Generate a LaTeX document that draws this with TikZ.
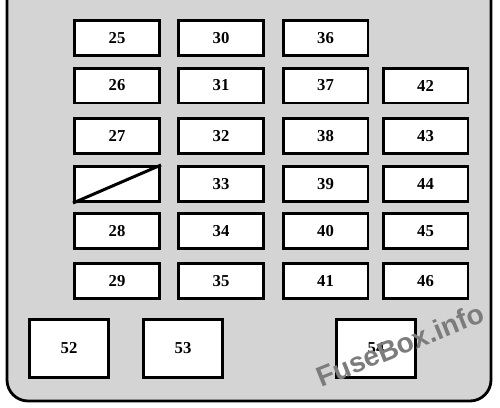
\documentclass[tikz,border=0pt]{standalone}
\usepackage{fontspec}
\setmainfont{Liberation Serif}
\newfontfamily\markfont{Liberation Sans}
\usepackage{tikz}
\usepackage{xcolor}

\definecolor{panelgrey}{HTML}{D4D4D4}
\definecolor{markgrey}{HTML}{7C7C7C}

\tikzset{
  fuse/.style={draw, line width=1.7pt, fill=white, minimum width=1.7cm, minimum height=0.7cm,
    inner sep=0pt, font=\fontsize{9.5}{11}\selectfont\bfseries},
  bigfuse/.style={fuse, minimum width=1.58cm, minimum height=1.16cm}
}

\begin{document}
\begin{tikzpicture}[x=0.02cm, y=-0.02cm]
\useasboundingbox (0,0) rectangle (500,407);
\fill[white] (0,0) rectangle (500,407);
\draw[line width=1.6pt, fill=panelgrey, rounded corners=12] (7,-30) rectangle (491,401);

% column 1
\node[fuse] (f25) at (117,38) {25};
\node[fuse] (f26) at (117,85.5) {26};
\node[fuse] (f27) at (117,136) {27};
\node[fuse] (spare) at (117,184) {};
\node[fuse] (f28) at (117,231) {28};
\node[fuse] (f29) at (117,281) {29};

% column 2
\node[fuse] (f30) at (221,38) {30};
\node[fuse] (f31) at (221,85.5) {31};
\node[fuse] (f32) at (221,136) {32};
\node[fuse] (f33) at (221,184) {33};
\node[fuse] (f34) at (221,231) {34};
\node[fuse] (f35) at (221,281) {35};

% column 3
\node[fuse] (f36) at (325.5,38) {36};
\node[fuse] (f37) at (325.5,85.5) {37};
\node[fuse] (f38) at (325.5,136) {38};
\node[fuse] (f39) at (325.5,184) {39};
\node[fuse] (f40) at (325.5,231) {40};
\node[fuse] (f41) at (325.5,281) {41};

% column 4
\node[fuse] (f42) at (425.5,85.5) {42};
\node[fuse] (f43) at (425.5,136) {43};
\node[fuse] (f44) at (425.5,184) {44};
\node[fuse] (f45) at (425.5,231) {45};
\node[fuse] (f46) at (425.5,281) {46};

% big fuses
\node[bigfuse] (f52) at (69,348.5) {52};
\node[bigfuse] (f53) at (183,348.5) {53};
\node[bigfuse] (f54) at (376,348.5) {54};

\draw[line width=1.7pt] (spare.south west) -- (spare.north east);

\node[text=markgrey, rotate=22, font=\markfont\fontsize{16}{18}\selectfont\bfseries] (mark) at (400,345) {FuseBox.info};
\end{tikzpicture}
\end{document}
